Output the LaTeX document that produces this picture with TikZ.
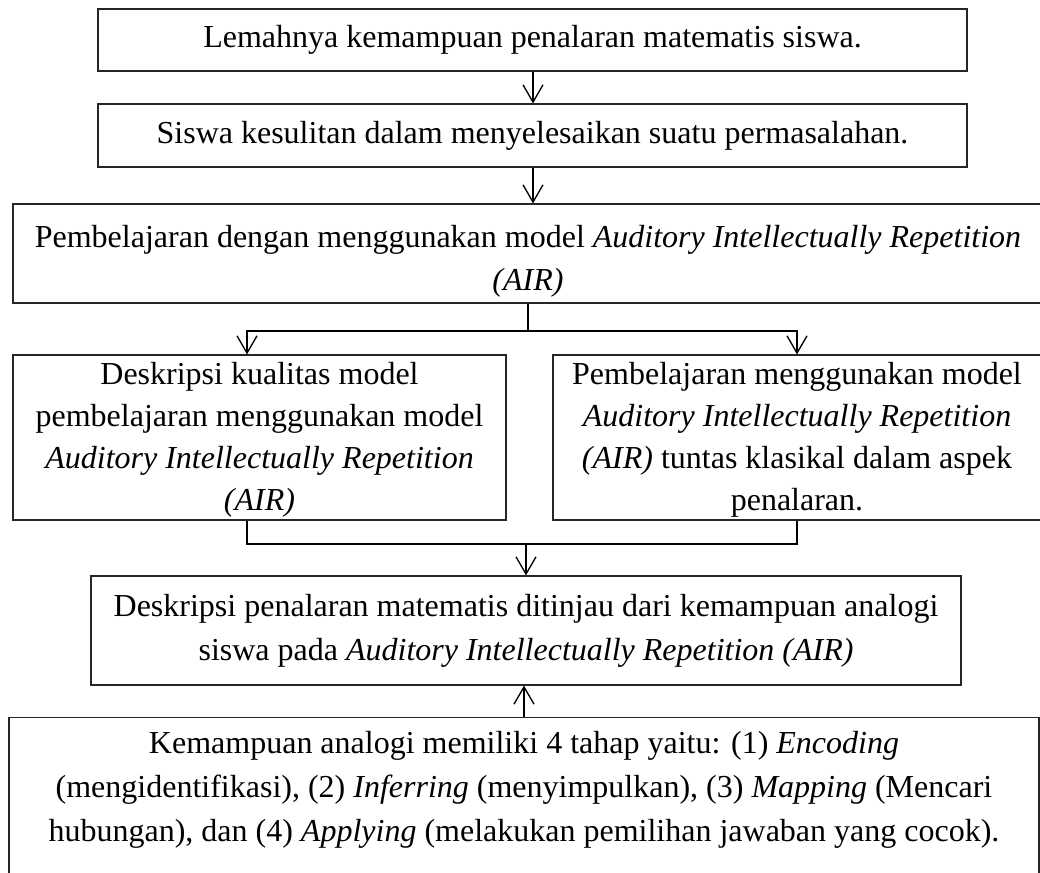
\documentclass[tikz,border=0pt]{standalone}
\usepackage{fontspec}
\setmainfont{Liberation Serif}
\usetikzlibrary{arrows.meta}
\begin{document}
\begin{tikzpicture}[x=0.75pt,y=-0.75pt,
  box/.style={draw=black!85, line width=0.8pt, inner sep=0pt, align=center,
    font=\fontsize{24pt}{33pt}\selectfont},
  txt/.style={inner sep=0pt, align=center, font=\fontsize{24pt}{32.5pt}\selectfont},
  conn/.style={draw=black, line width=1pt},
  arr/.style={conn, -{Straight Barb[length=13pt,width=15pt]}}]
\useasboundingbox (0,0) rectangle (1040,873);
\clip (0,0) rectangle (1040,873);

\node[box, minimum width=651.75pt, minimum height=46.5pt] (b1) at (532.5,40)
  {Lemahnya kemampuan penalaran matematis siswa.};
\node[box, minimum width=651.75pt, minimum height=47.25pt] (b2) at (532.5,135.5)
  {Siswa kesulitan dalam menyelesaikan suatu permasalahan.};
\node[box, minimum width=772.5pt, minimum height=74.25pt] (b3) at (528,253.5) {};
\node[txt] (b3t) at (528,261)
  {Pembelajaran dengan menggunakan model \textit{Auditory Intellectually Repetition}\\\textit{(AIR)}};
\node[box, minimum width=369.75pt, minimum height=123.75pt] (b4) at (259.5,437.5) {};
\node[txt, font=\fontsize{24pt}{31.5pt}\selectfont] (b4t) at (259.5,440)
  {Deskripsi kualitas model\\pembelajaran menggunakan model\\\textit{Auditory Intellectually Repetition}\\\textit{(AIR)}};
\node[box, minimum width=366pt, minimum height=123.75pt] (b5) at (797,437.5) {};
\node[txt, font=\fontsize{24pt}{31.5pt}\selectfont] (b5t) at (797,440)
  {Pembelajaran menggunakan model\\\textit{Auditory Intellectually Repetition}\\\textit{(AIR)} tuntas klasikal dalam aspek\\penalaran.};
\node[box, minimum width=652.5pt, minimum height=81.75pt] (b6) at (526,630.5)
  {Deskripsi penalaran matematis ditinjau dari kemampuan analogi\\siswa pada \textit{Auditory Intellectually Repetition (AIR)}};
\node[box, minimum width=772.5pt, minimum height=137.25pt, anchor=north] (b7) at (524,717) {};
\node[txt, anchor=north, font=\fontsize{24pt}{33pt}\selectfont] (b7t) at (524,731)
  {Kemampuan analogi memiliki 4 tahap yaitu: (1) \textit{Encoding}\\(mengidentifikasi), (2) \textit{Inferring} (menyimpulkan), (3) \textit{Mapping} (Mencari\\hubungan), dan (4) \textit{Applying} (melakukan pemilihan jawaban yang cocok).};

\coordinate (x1) at (533,0);
\coordinate (x4) at (247,0);
\coordinate (x5) at (797,0);
\coordinate (j1) at (528,331);
\coordinate (j2) at (526,544);

\draw[arr] (b1.south -| x1) -- (b2.north -| x1);
\draw[arr] (b2.south -| x1) -- (b3.north -| x1);
\draw[conn] (b3.south -| j1) -- (j1);
\draw[arr] (j1) -| (b4.north -| x4);
\draw[arr] (j1) -| (b5.north -| x5);
\draw[conn] (b4.south -| x4) |- (j2);
\draw[conn] (b5.south -| x5) |- (j2);
\draw[arr] (j2) -- (b6.north -| j2);
\draw[arr] (b7.north) -- (b7.north |- b6.south);
\end{tikzpicture}
\end{document}
